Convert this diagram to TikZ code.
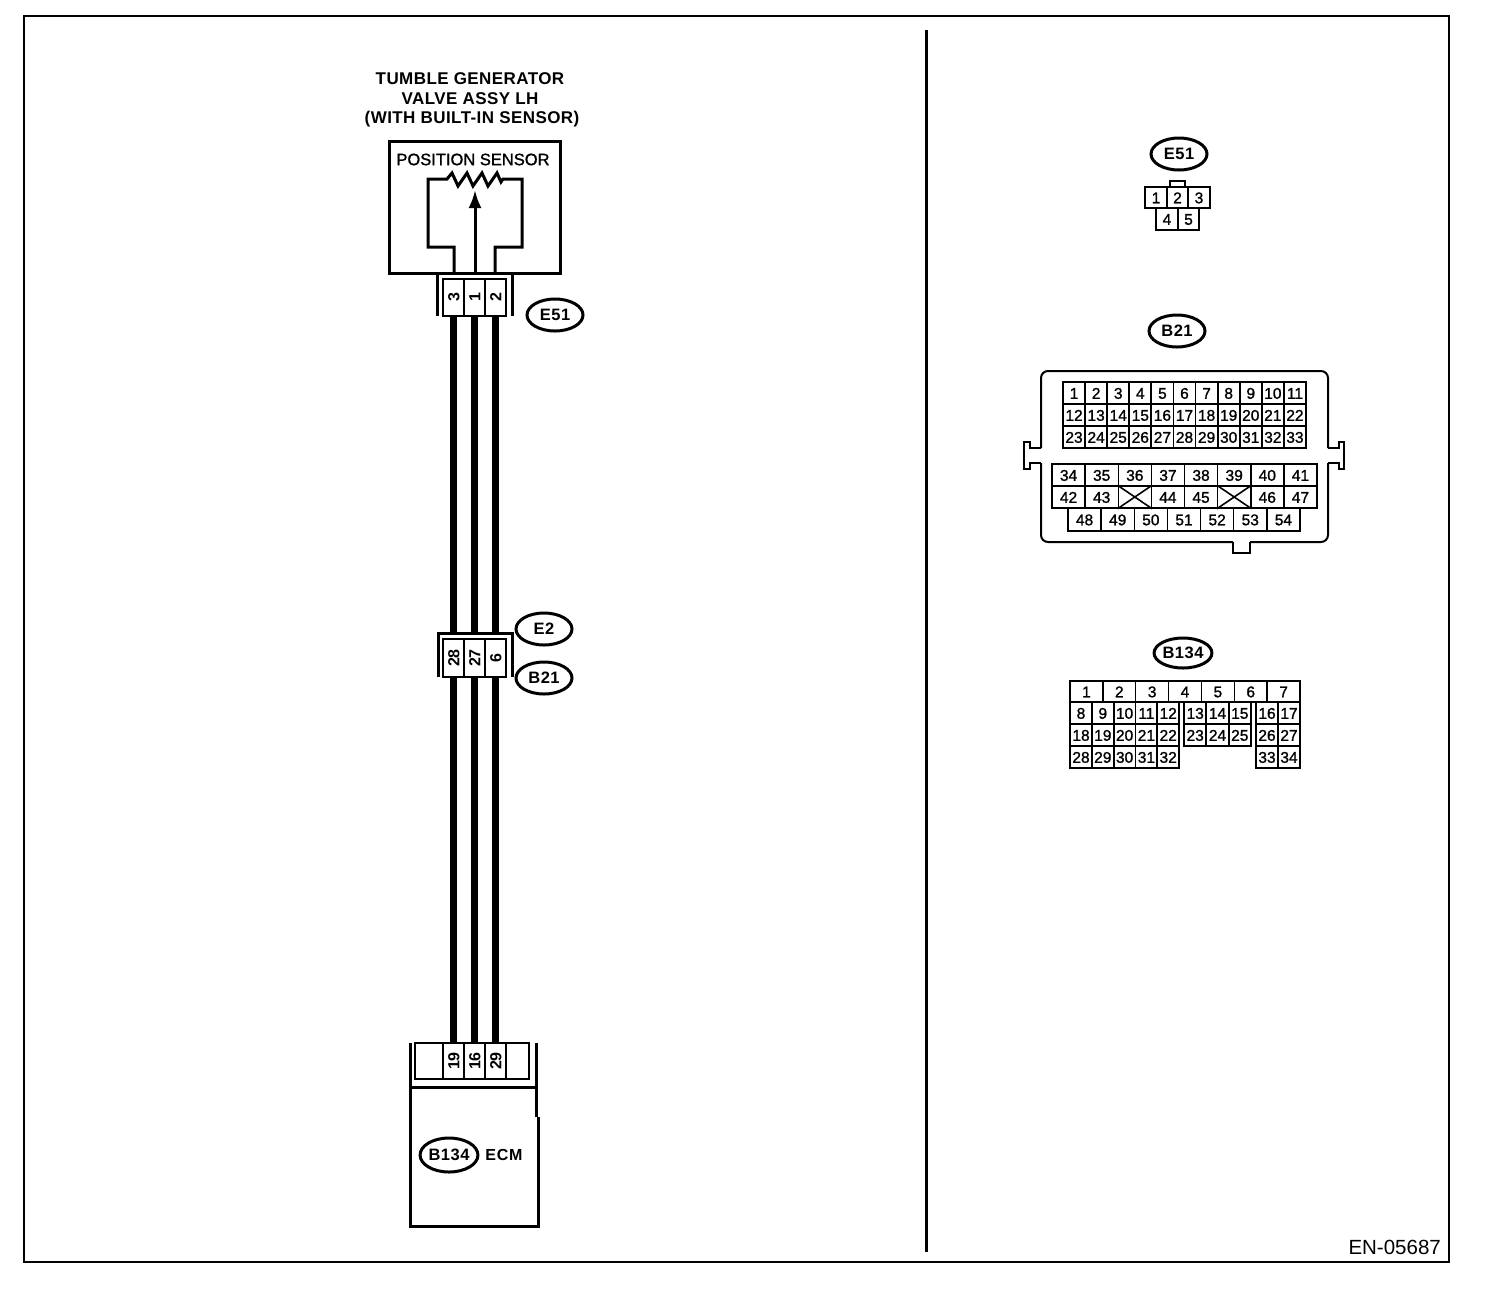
\documentclass[tikz,border=0pt]{standalone}
\usepackage{fontspec}
\setmainfont{Liberation Sans}
\newfontfamily\heavyfont[FakeBold=1.2]{Liberation Sans}
\usetikzlibrary{arrows.meta,shapes.geometric}
\newcommand{\fs}[1]{\fontsize{#1}{#1}\selectfont}
\tikzset{
  x=1pt,y=-1pt,
  frameline/.style={line width=2pt},
  divider/.style={line width=3pt},
  heavy/.style={line width=3pt},
  inner/.style={line width=2.5pt},
  wire/.style={line width=7pt},
  oval/.style={draw,ellipse,line width=3pt,minimum width=56pt,minimum height=32pt,inner sep=0pt,font=\fs{16.5}\bfseries\addfontfeature{LetterSpace=3}},
  title/.style={font=\fs{17}\bfseries\addfontfeature{LetterSpace=2.5},inner sep=0pt},
  pin/.style={draw,line width=2.5pt,inner sep=0pt,rotate=90,text height=11.5pt,text depth=0pt,font=\fs{16}\bfseries},
  cell/.style={draw,line width=1.8pt,inner sep=0pt,text height=11.5pt,text depth=0pt,font=\fs{15.5}\heavyfont},
  thincell/.style={cell,line width=1.5pt},
  gridbox/.style={line width=2.2pt},
}
\begin{document}
\begin{tikzpicture}
\useasboundingbox (0,0) rectangle (1504,1294);
\fill[white] (0,0) rectangle (1504,1294);
\draw[frameline] (24,16) rectangle (1449,1262);
\draw[divider] (926,30) -- (926,1252);
\node[font=\fs{20.5},anchor=east,inner sep=0pt] (code) at (1441,1247) {EN-05687};

% titles
\node[title] (t1) at (470,79) {TUMBLE GENERATOR};
\node[title] (t2) at (470,99) {VALVE ASSY LH};
\node[title] (t3) at (472,119) {(WITH BUILT-IN SENSOR)};

% sensor
\draw[heavy] (389,141) rectangle (560,273);
\node[font=\fs{16.5}\heavyfont,inner sep=0pt] (ps) at (473,159.5) {POSITION SENSOR};
\draw[heavy,line join=miter] (454,273) -- (454,247) -- (428,247) -- (428,179) -- (447,179)
  -- (452,173) -- (458,186) -- (467,173) -- (473,186) -- (482,173) -- (488,186) -- (497,173) -- (501,182) -- (503,179)
  -- (522,179) -- (522,247) -- (495,247) -- (495,273);
\coordinate (tip) at (475,190);
\coordinate (armbase) at (475,273);
\draw[heavy,-{Latex[length=18pt,width=13pt]}] (armbase) -- (tip);

% connector E51 (harness side)
\draw[line width=3pt] (437,273) -- (437,316) (512,273) -- (512,316);
\node[pin,minimum width=37pt,minimum height=21pt] (a1) at (453.5,297.5) {3};
\node[pin,minimum width=37pt,minimum height=21pt] (a2) at (474.5,297.5) {1};
\node[pin,minimum width=37pt,minimum height=21pt] (a3) at (495.5,297.5) {2};
\node[oval] (oe51) at (555,315) {E51};

% connector E2/B21
\coordinate (btop) at (475,633);
\draw[line width=3pt] (438,677) -- (438,633) -- (512,633) -- (512,677);
\node[pin,minimum width=38pt,minimum height=21pt] (b1) at (453.5,658) {28};
\node[pin,minimum width=38pt,minimum height=21pt] (b2) at (474.5,658) {27};
\node[pin,minimum width=38pt,minimum height=21pt] (b3) at (495.5,658) {6};
\node[oval] (oe2) at (544,629) {E2};
\node[oval] (ob21) at (544,678) {B21};

% ECM
\draw[heavy] (410,1043) -- (410,1226) -- (538,1226) -- (538,1117) (536.5,1117) -- (536.5,1043);
\draw[heavy] (410,1087) -- (537,1087);
\draw[inner] (415,1043) rectangle (529,1079);
\node[pin,minimum width=36pt,minimum height=21pt] (c1) at (453.5,1061) {19};
\node[pin,minimum width=36pt,minimum height=21pt] (c2) at (474.5,1061) {16};
\node[pin,minimum width=36pt,minimum height=21pt] (c3) at (495.5,1061) {29};
\node[oval,minimum height=34pt] (ob134) at (449,1155) {B134};
\node[font=\fs{16}\bfseries\addfontfeature{LetterSpace=5},inner sep=0pt] (ecm) at (504,1155) {ECM};

% wires
\draw[wire] (a1.west) -- (a1.west |- btop);
\draw[wire] (a2.west) -- (a2.west |- btop);
\draw[wire] (a3.west) -- (a3.west |- btop);
\draw[wire] (b1.west) -- (c1.east);
\draw[wire] (b2.west) -- (c2.east);
\draw[wire] (b3.west) -- (c3.east);

% right: E51
\node[oval] (re51) at (1179,154) {E51};
\draw[line width=1.6pt] (1170,187) -- (1170,181) -- (1185,181) -- (1185,187);
\foreach \n/\cx in {1/1156,2/1177.5,3/1199}
  \node[cell,minimum width=21.5pt,minimum height=21pt] (ra\n) at (\cx,197.5) {\n};
\foreach \n/\cx in {4/1167,5/1188.5}
  \node[cell,minimum width=21.5pt,minimum height=22pt] (ra\n) at (\cx,219) {\n};

% right: B21
\node[oval] (rb21) at (1177,331) {B21};
\draw[line width=2pt,rounded corners=7pt] (1041,448) -- (1041,371) -- (1328,371) -- (1328,448);
\draw[line width=2pt,rounded corners=7pt] (1041,463) -- (1041,542) -- (1233,542);
\draw[line width=2pt,rounded corners=7pt] (1250,542) -- (1328,542) -- (1328,463);
\draw[line width=2pt] (1041,448) -- (1030,448) -- (1030,442) -- (1024,442) -- (1024,469) -- (1030,469) -- (1030,463) -- (1041,463);
\draw[line width=2pt] (1328,448) -- (1339,448) -- (1339,442) -- (1344,442) -- (1344,469) -- (1339,469) -- (1339,463) -- (1328,463);
\draw[line width=2pt] (1233,542) -- (1233,553) -- (1250,553) -- (1250,542);
\foreach \r in {0,1,2}
  \foreach \c in {1,...,11}{
    \pgfmathtruncatemacro{\n}{\r*11+\c}
    \pgfmathsetmacro{\cx}{1063+22.09*(\c-0.5)}
    \pgfmathsetmacro{\cy}{393+22*\r}
    \node[cell,minimum width=22.09pt,minimum height=22pt] (t\n) at (\cx,\cy) {\n};
  }
\draw[gridbox] (1063,382) rectangle (1306,448);
\foreach \n/\c in {34/1,35/2,36/3,37/4,38/5,39/6,40/7,41/8}{
  \pgfmathsetmacro{\cx}{1052+33.125*(\c-0.5)}
  \node[thincell,minimum width=33.125pt,minimum height=22pt] (m\n) at (\cx,475) {\n};
}
\foreach \n/\c in {42/1,43/2,44/4,45/5,46/7,47/8}{
  \pgfmathsetmacro{\cx}{1052+33.125*(\c-0.5)}
  \node[thincell,minimum width=33.125pt,minimum height=22pt] (m\n) at (\cx,497) {\n};
}
\foreach \c in {3,6}{
  \pgfmathsetmacro{\cx}{1052+33.125*(\c-0.5)}
  \node[thincell,minimum width=33.125pt,minimum height=22pt] (x\c) at (\cx,497) {};
  \draw[line width=1.6pt] (x\c.north west) -- (x\c.south east) (x\c.north east) -- (x\c.south west);
}
\foreach \n/\c in {48/1,49/2,50/3,51/4,52/5,53/6,54/7}{
  \pgfmathsetmacro{\cx}{1068+33.14*(\c-0.5)}
  \node[thincell,minimum width=33.14pt,minimum height=23pt] (m\n) at (\cx,519.5) {\n};
}

% right: B134
\node[oval,minimum height=30pt] (rb134) at (1183,653) {B134};
\foreach \n in {1,...,7}{
  \pgfmathsetmacro{\cx}{1070+32.86*(\n-0.5)}
  \node[thincell,minimum width=32.86pt,minimum height=21pt] (p\n) at (\cx,691.5) {\n};
}
\foreach \r/\s/\cy in {0/8/713,1/18/735,2/28/757}
  \foreach \c in {0,...,4}{
    \pgfmathtruncatemacro{\n}{\s+\c}
    \pgfmathsetmacro{\cx}{1081+21.8*\c}
    \node[cell,minimum width=21.8pt,minimum height=22pt] (p\n) at (\cx,\cy) {\n};
  }
\foreach \r/\s/\cy in {0/13/713,1/23/735}
  \foreach \c in {0,1,2}{
    \pgfmathtruncatemacro{\n}{\s+\c}
    \pgfmathsetmacro{\cx}{1195.2+22.3*\c}
    \node[cell,minimum width=22.3pt,minimum height=22pt] (p\n) at (\cx,\cy) {\n};
  }
\foreach \a/\b/\cy in {16/17/713,26/27/735,33/34/757}{
  \node[cell,minimum width=22pt,minimum height=22pt] (p\a) at (1267,\cy) {\a};
  \node[cell,minimum width=22pt,minimum height=22pt] (p\b) at (1289,\cy) {\b};
}
\end{tikzpicture}
\end{document}
